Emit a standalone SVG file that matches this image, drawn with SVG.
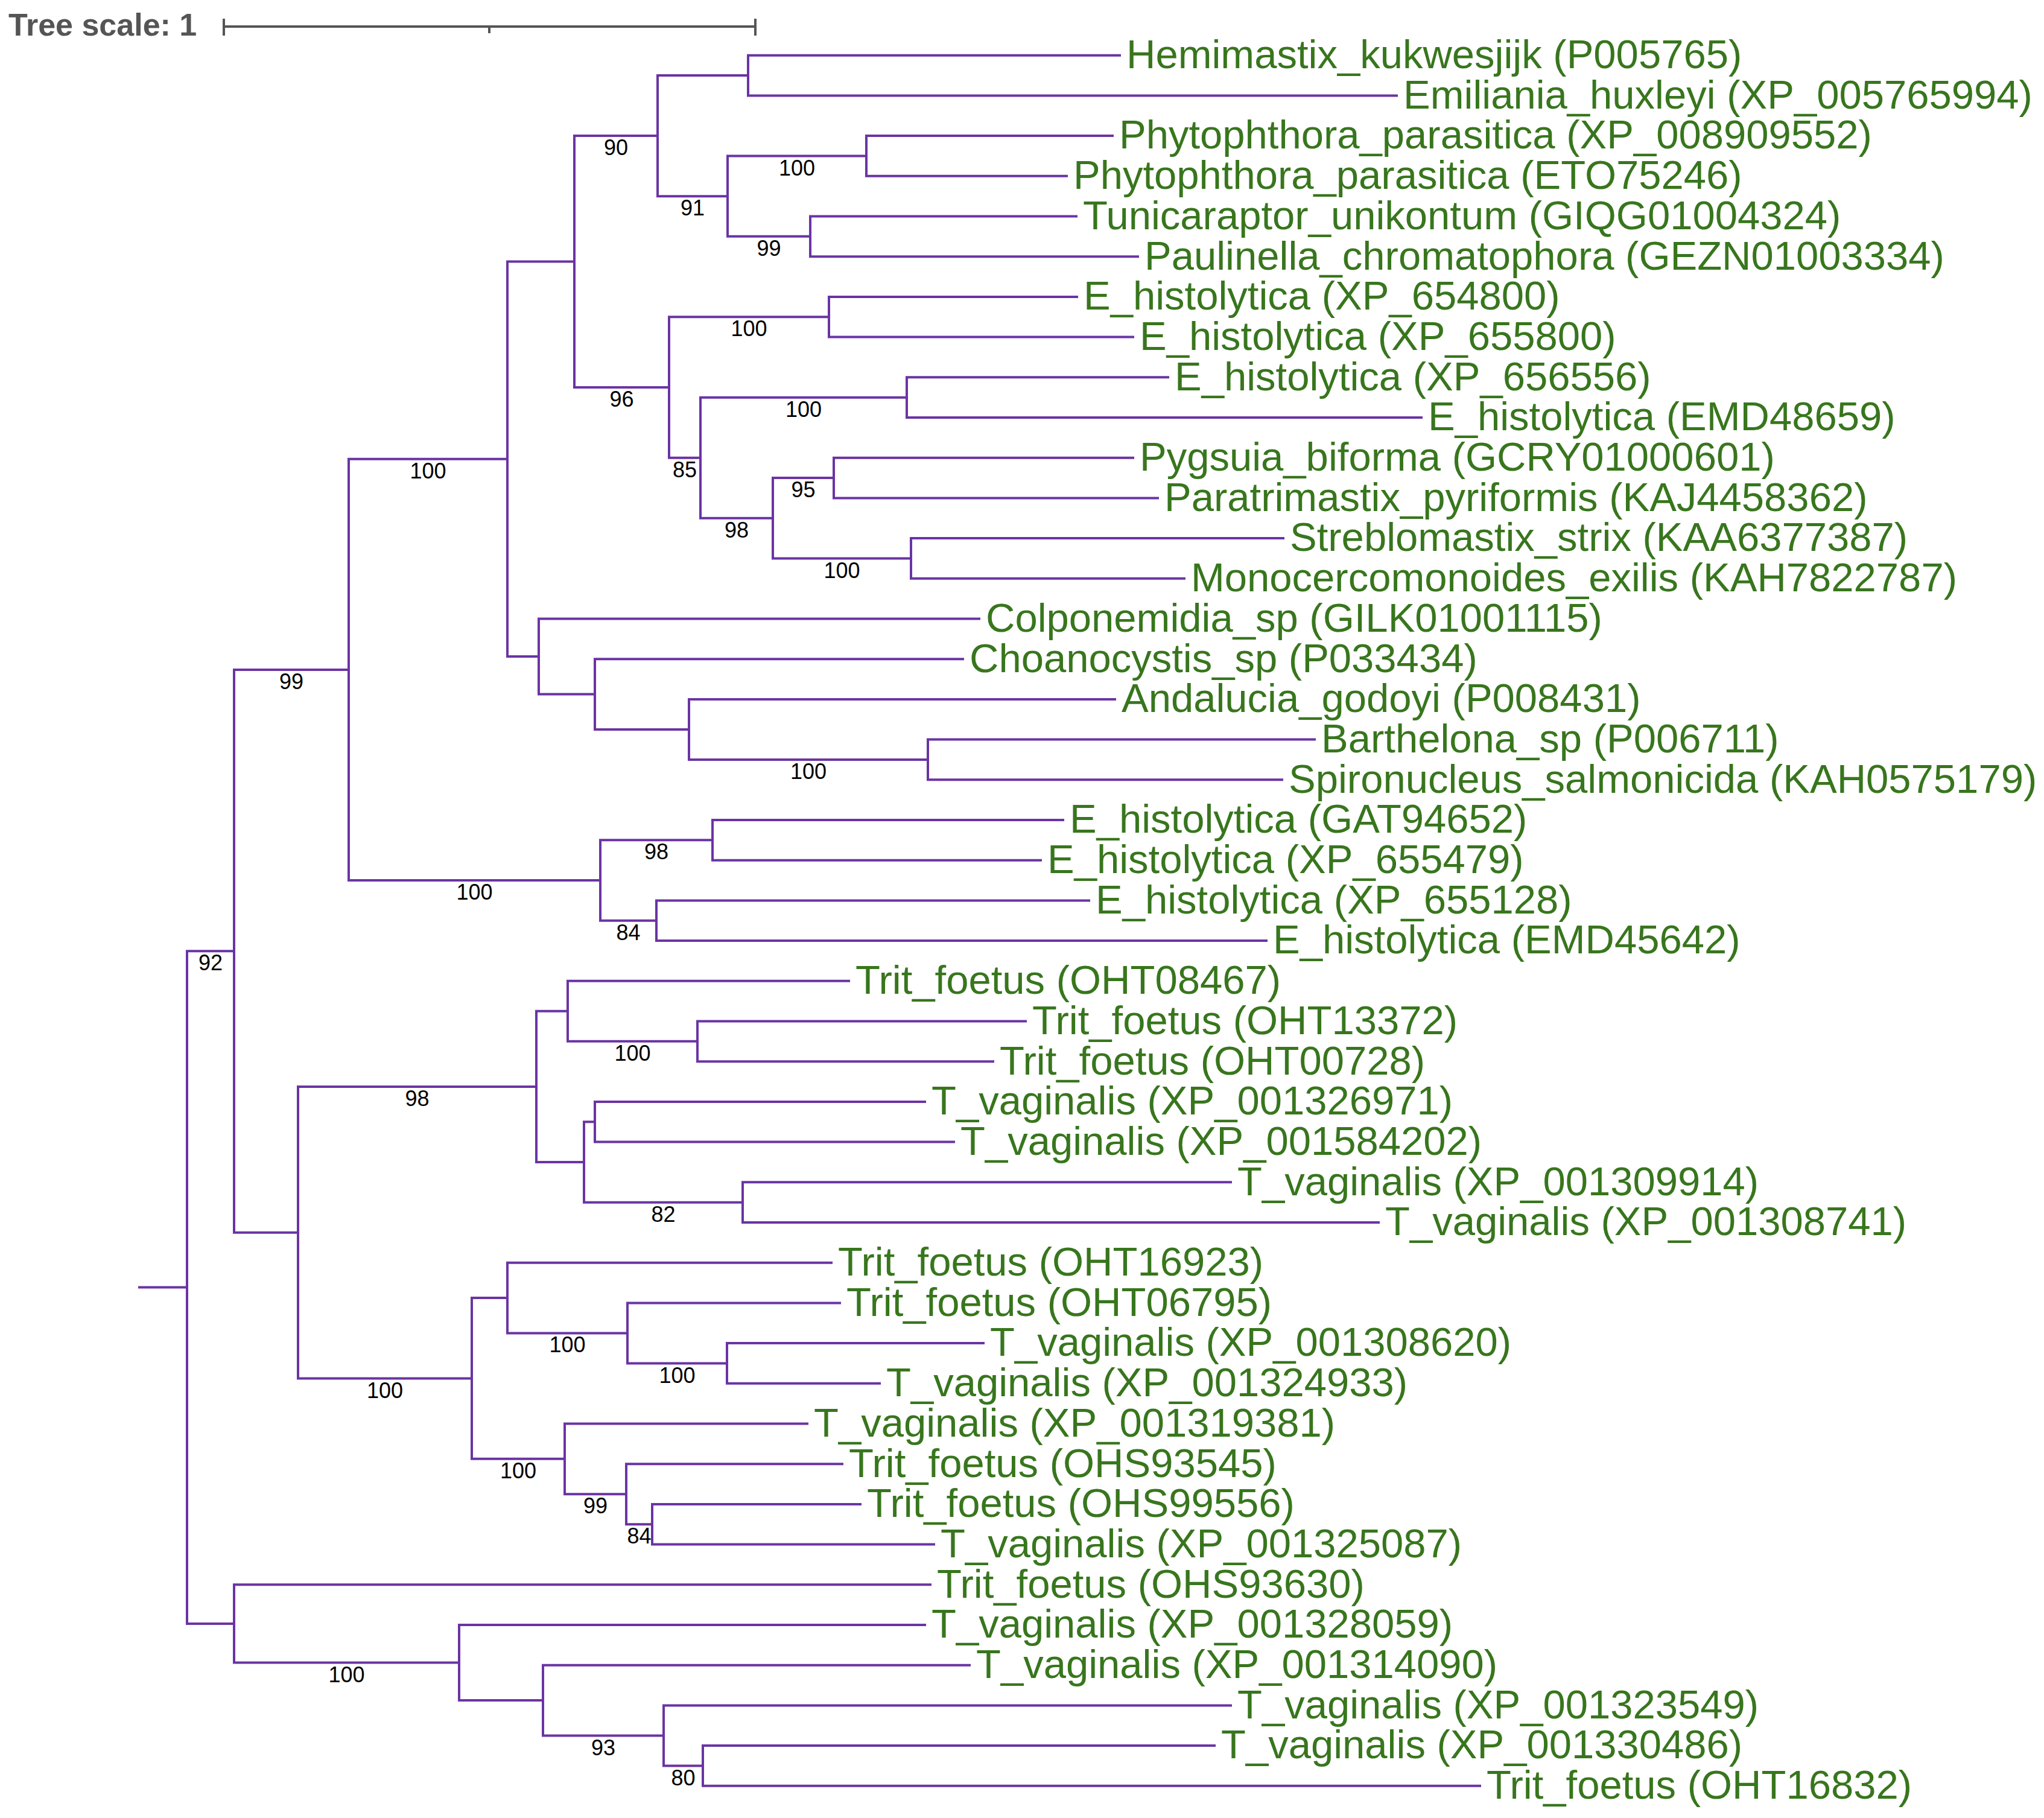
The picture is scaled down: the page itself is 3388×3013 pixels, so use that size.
<svg xmlns="http://www.w3.org/2000/svg" width="3388" height="3013" viewBox="0 0 3388 3013">
<style>
.br{fill:none;stroke:#6a34a4;stroke-width:4;stroke-linejoin:miter}
.lf{font-family:"Liberation Sans",Arial,sans-serif;font-size:67px;fill:#38761d}
.bs{font-family:"Liberation Sans",Arial,sans-serif;font-size:36px;fill:#000;text-anchor:middle}
.sc{stroke:#555;stroke-width:4;fill:none}
</style>
<rect width="3388" height="3013" fill="#fff"/>
<g id="scale">
<text x="14" y="59" font-family="Liberation Sans,Arial,sans-serif" font-size="52" font-weight="bold" fill="#555">Tree scale: 1</text>
<path class="sc" d="M371 44H1252M371 31V59M1252 31V59M811 44V55"/>
</g>
<g id="connectors">
<path class="br" d="M1858 91.7H1240V158.4H2317"/>
<path class="br" d="M1846 225.1H1436V291.8H1770"/>
<path class="br" d="M1786 358.5H1343V425.2H1888"/>
<path class="br" d="M1436 258.45H1206V391.85H1343"/>
<path class="br" d="M1240 125.05H1090V325.15H1206"/>
<path class="br" d="M1787 491.9H1374V558.6H1880"/>
<path class="br" d="M1938 625.3H1503V692H2358"/>
<path class="br" d="M1880 758.7H1382V825.4H1921"/>
<path class="br" d="M2129 892.1H1510V958.8H1965"/>
<path class="br" d="M1382 792.05H1281V925.45H1510"/>
<path class="br" d="M1503 658.65H1161V858.75H1281"/>
<path class="br" d="M1374 525.25H1109V758.7H1161"/>
<path class="br" d="M1090 225.1H952V642H1109"/>
<path class="br" d="M2181 1225.6H1538V1292.3H2127"/>
<path class="br" d="M1850 1158.9H1142V1258.95H1538"/>
<path class="br" d="M1598 1092.2H986V1208.93H1142"/>
<path class="br" d="M1625 1025.5H893V1150.56H986"/>
<path class="br" d="M952 433.54H841V1088.03H893"/>
<path class="br" d="M1764 1359H1181V1425.7H1727"/>
<path class="br" d="M1807 1492.4H1088V1559.1H2101"/>
<path class="br" d="M1181 1392.35H995V1525.75H1088"/>
<path class="br" d="M841 760.79H578V1459.05H995"/>
<path class="br" d="M1702 1692.5H1156V1759.2H1648"/>
<path class="br" d="M1409 1625.8H941V1725.85H1156"/>
<path class="br" d="M1535 1825.9H986V1892.6H1583"/>
<path class="br" d="M2042 1959.3H1231V2026H2287"/>
<path class="br" d="M986 1859.25H968V1992.65H1231"/>
<path class="br" d="M941 1675.83H889V1925.95H968"/>
<path class="br" d="M1632 2226.1H1205V2292.8H1460"/>
<path class="br" d="M1394 2159.4H1040V2259.45H1205"/>
<path class="br" d="M1380 2092.7H841V2209.43H1040"/>
<path class="br" d="M1428 2492.9H1081V2559.6H1550"/>
<path class="br" d="M1398 2426.2H1038V2526.25H1081"/>
<path class="br" d="M1340 2359.5H936V2476.23H1038"/>
<path class="br" d="M841 2151.06H782V2417.86H936"/>
<path class="br" d="M889 1800.89H494V2284.46H782"/>
<path class="br" d="M578 1109.92H388V2042.68H494"/>
<path class="br" d="M2015 2893.1H1165V2959.8H2455"/>
<path class="br" d="M2042 2826.4H1100V2926.45H1165"/>
<path class="br" d="M1609 2759.7H900V2876.43H1100"/>
<path class="br" d="M1535 2693H761V2818.06H900"/>
<path class="br" d="M1544 2626.3H388V2755.53H761"/>
<path class="br" d="M388 1576.3H310V2690.92H388"/>
<path class="br" d="M229 2133.6H310"/>
</g>
<g id="support">
<text class="bs" x="1021" y="257">90</text>
<text class="bs" x="1148" y="357.2">91</text>
<text class="bs" x="1321" y="290.5">100</text>
<text class="bs" x="1274.5" y="423.9">99</text>
<text class="bs" x="1030.5" y="674">96</text>
<text class="bs" x="1241.5" y="557.3">100</text>
<text class="bs" x="1135" y="790.7">85</text>
<text class="bs" x="1332" y="690.7">100</text>
<text class="bs" x="1221" y="890.8">98</text>
<text class="bs" x="1331.5" y="824.1">95</text>
<text class="bs" x="1395.5" y="957.5">100</text>
<text class="bs" x="1340" y="1291">100</text>
<text class="bs" x="709.5" y="792.8">100</text>
<text class="bs" x="483" y="1141.9">99</text>
<text class="bs" x="786.5" y="1491.1">100</text>
<text class="bs" x="1088" y="1424.4">98</text>
<text class="bs" x="1041.5" y="1557.8">84</text>
<text class="bs" x="349" y="1608.3">92</text>
<text class="bs" x="1048.5" y="1757.9">100</text>
<text class="bs" x="691.5" y="1832.9">98</text>
<text class="bs" x="1099.5" y="2024.7">82</text>
<text class="bs" x="940.5" y="2241.4">100</text>
<text class="bs" x="1122.5" y="2291.5">100</text>
<text class="bs" x="638" y="2316.5">100</text>
<text class="bs" x="859" y="2449.9">100</text>
<text class="bs" x="987" y="2508.2">99</text>
<text class="bs" x="1059.5" y="2558.3">84</text>
<text class="bs" x="574.5" y="2787.5">100</text>
<text class="bs" x="1000" y="2908.5">93</text>
<text class="bs" x="1132.5" y="2958.5">80</text>
</g>
<g id="leaves">
<text id="l0" class="lf" x="1867" y="113">Hemimastix_kukwesjijk (P005765)</text>
<text id="l1" class="lf" x="2326" y="179.7">Emiliania_huxleyi (XP_005765994)</text>
<text id="l2" class="lf" x="1855" y="246.4">Phytophthora_parasitica (XP_008909552)</text>
<text id="l3" class="lf" x="1779" y="313.1">Phytophthora_parasitica (ETO75246)</text>
<text id="l4" class="lf" x="1795" y="379.8">Tunicaraptor_unikontum (GIQG01004324)</text>
<text id="l5" class="lf" x="1897" y="446.5">Paulinella_chromatophora (GEZN01003334)</text>
<text id="l6" class="lf" x="1796" y="513.2">E_histolytica (XP_654800)</text>
<text id="l7" class="lf" x="1889" y="579.9">E_histolytica (XP_655800)</text>
<text id="l8" class="lf" x="1947" y="646.6">E_histolytica (XP_656556)</text>
<text id="l9" class="lf" x="2367" y="713.3">E_histolytica (EMD48659)</text>
<text id="l10" class="lf" x="1889" y="780">Pygsuia_biforma (GCRY01000601)</text>
<text id="l11" class="lf" x="1930" y="846.7">Paratrimastix_pyriformis (KAJ4458362)</text>
<text id="l12" class="lf" x="2138" y="913.4">Streblomastix_strix (KAA6377387)</text>
<text id="l13" class="lf" x="1974" y="980.1">Monocercomonoides_exilis (KAH7822787)</text>
<text id="l14" class="lf" x="1634" y="1046.8">Colponemidia_sp (GILK01001115)</text>
<text id="l15" class="lf" x="1607" y="1113.5">Choanocystis_sp (P033434)</text>
<text id="l16" class="lf" x="1859" y="1180.2">Andalucia_godoyi (P008431)</text>
<text id="l17" class="lf" x="2190" y="1246.9">Barthelona_sp (P006711)</text>
<text id="l18" class="lf" x="2136" y="1313.6">Spironucleus_salmonicida (KAH0575179)</text>
<text id="l19" class="lf" x="1773" y="1380.3">E_histolytica (GAT94652)</text>
<text id="l20" class="lf" x="1736" y="1447">E_histolytica (XP_655479)</text>
<text id="l21" class="lf" x="1816" y="1513.7">E_histolytica (XP_655128)</text>
<text id="l22" class="lf" x="2110" y="1580.4">E_histolytica (EMD45642)</text>
<text id="l23" class="lf" x="1418" y="1647.1">Trit_foetus (OHT08467)</text>
<text id="l24" class="lf" x="1711" y="1713.8">Trit_foetus (OHT13372)</text>
<text id="l25" class="lf" x="1657" y="1780.5">Trit_foetus (OHT00728)</text>
<text id="l26" class="lf" x="1544" y="1847.2">T_vaginalis (XP_001326971)</text>
<text id="l27" class="lf" x="1592" y="1913.9">T_vaginalis (XP_001584202)</text>
<text id="l28" class="lf" x="2051" y="1980.6">T_vaginalis (XP_001309914)</text>
<text id="l29" class="lf" x="2296" y="2047.3">T_vaginalis (XP_001308741)</text>
<text id="l30" class="lf" x="1389" y="2114">Trit_foetus (OHT16923)</text>
<text id="l31" class="lf" x="1403" y="2180.7">Trit_foetus (OHT06795)</text>
<text id="l32" class="lf" x="1641" y="2247.4">T_vaginalis (XP_001308620)</text>
<text id="l33" class="lf" x="1469" y="2314.1">T_vaginalis (XP_001324933)</text>
<text id="l34" class="lf" x="1349" y="2380.8">T_vaginalis (XP_001319381)</text>
<text id="l35" class="lf" x="1407" y="2447.5">Trit_foetus (OHS93545)</text>
<text id="l36" class="lf" x="1437" y="2514.2">Trit_foetus (OHS99556)</text>
<text id="l37" class="lf" x="1559" y="2580.9">T_vaginalis (XP_001325087)</text>
<text id="l38" class="lf" x="1553" y="2647.6">Trit_foetus (OHS93630)</text>
<text id="l39" class="lf" x="1544" y="2714.3">T_vaginalis (XP_001328059)</text>
<text id="l40" class="lf" x="1618" y="2781">T_vaginalis (XP_001314090)</text>
<text id="l41" class="lf" x="2051" y="2847.7">T_vaginalis (XP_001323549)</text>
<text id="l42" class="lf" x="2024" y="2914.4">T_vaginalis (XP_001330486)</text>
<text id="l43" class="lf" x="2464" y="2981.1">Trit_foetus (OHT16832)</text>
</g>
</svg>
